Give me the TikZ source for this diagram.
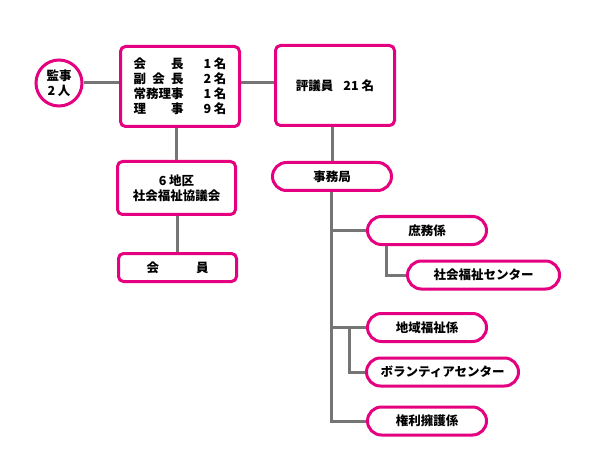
\documentclass[tikz,border=0pt]{standalone}
\usepackage{fontspec}
\setmainfont{Noto Sans CJK JP}
\definecolor{pink}{HTML}{E4007F}
\definecolor{lgray}{HTML}{757575}
\tikzset{
  txt/.style={font=\fontsize{12.5}{15}\selectfont\bfseries},
  box/.style={txt, draw=pink, line width=3pt, fill=white, rounded corners=5pt, inner sep=0pt, align=center},
  pill/.style={txt, draw=pink, line width=3pt, fill=white, rounded corners=14pt, inner sep=0pt, minimum height=28pt, align=center},
  conn/.style={draw=lgray, line width=3pt},
}
\begin{document}
\begin{tikzpicture}[x=1pt,y=-1pt]
\useasboundingbox (0,0) rectangle (596,462);
\node[txt, circle, draw=pink, line width=3pt, minimum size=46pt, inner sep=0pt, align=center] (kanji) at (59,83) {監事\\2 人};
\node[box, minimum width=119pt, minimum height=80pt] (box1) at (180,86.5) {};
\node[box, minimum width=119pt, minimum height=80pt] (hyogi) at (335,85.5) {評議員\hspace{10pt}21 名};
\node[pill, minimum width=119pt] (jimu) at (332,176.5) {事務局};
\node[box, minimum width=118pt, minimum height=53pt] (chiku) at (176.5,188) {6 地区\\社会福祉協議会};
\node[box, minimum width=118pt, minimum height=28pt] (kaiin) at (177.5,267.5) {会\hspace{37pt}員};
\node[pill, minimum width=119pt] (shomu) at (427,230.5) {庶務係};
\node[pill, minimum width=152pt] (center1) at (483.5,275) {社会福祉センター};
\node[pill, minimum width=119pt] (chiiki) at (427,327.5) {地域福祉係};
\node[pill, minimum width=152pt] (vol) at (442.5,372) {ボランティアセンター};
\node[pill, minimum width=119pt] (kenri) at (427,421) {権利擁護係};
\node[txt, align=left, inner sep=0pt] (box1text) at (box1.center) {%
\makebox[50pt][s]{会\hfill 長}\hspace{20pt}1 名\\
\makebox[50pt][s]{副\hfill 会\hfill 長}\hspace{20pt}2 名\\
\makebox[50pt][s]{常\hfill 務\hfill 理\hfill 事}\hspace{20pt}1 名\\
\makebox[50pt][s]{理\hfill 事}\hspace{20pt}9 名};
\draw[conn] (kanji.east) -- (kanji.east -| box1.west);
\draw[conn] (box1.east |- kanji.east) -- (hyogi.west |- kanji.east);
\draw[conn] (chiku.north |- box1.south) -- (chiku.north);
\draw[conn] (chiku.south -| kaiin.north) -- (kaiin.north);
\draw[conn] (jimu.north |- hyogi.south) -- (jimu.north);
\draw[conn] ([xshift=-1pt]jimu.south) |- (kenri.west);
\draw[conn] ([xshift=-1pt]jimu.south |- shomu.west) -- (shomu.west);
\draw[conn] ([xshift=-1pt]jimu.south |- chiiki.west) -- (chiiki.west);
\draw[conn] ([xshift=-41pt]shomu.south) |- (center1.west);
\draw[conn] ([xshift=17pt]jimu.south |- chiiki.west) |- (vol.west);
\end{tikzpicture}
\end{document}
